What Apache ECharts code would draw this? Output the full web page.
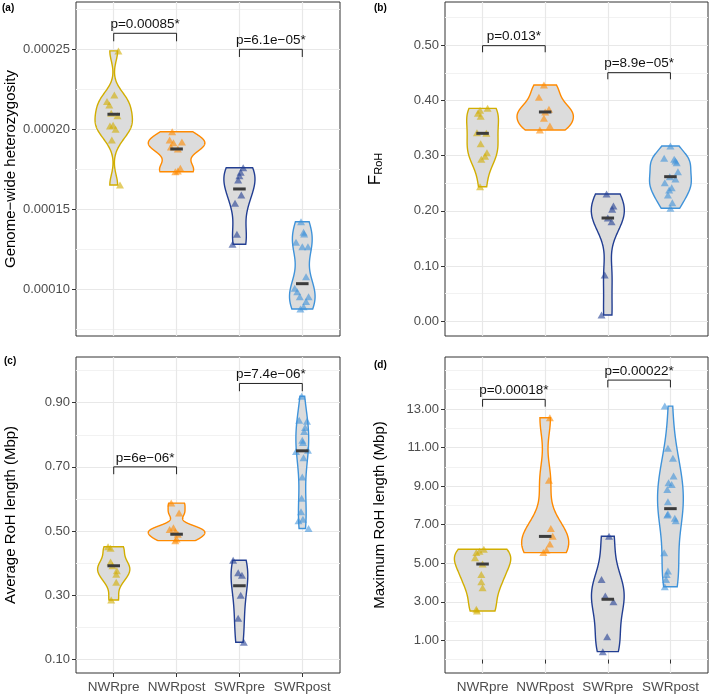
<!DOCTYPE html>
<html><head><meta charset="utf-8">
<script src="https://cdn.jsdelivr.net/npm/echarts@6/dist/echarts.min.js"></script>
<style>html,body{margin:0;padding:0;background:#fff}#chart{width:709px;height:694px}</style>
</head><body><div id="chart"></div>
<script>
// ---------- categories / colours ----------
const categories = ['NWRpre', 'NWRpost', 'SWRpre', 'SWRpost'];
const groupColors = ['#D2AE00', '#FF8A00', '#223E92', '#3F93DA'];

// ---------- (a) genome-wide heterozygosity ----------
const hetNWRpre = [0.000249, 0.0002214, 0.0002173, 0.0002152, 0.000210, 0.0002085, 0.0002025, 0.000202, 0.0002, 0.0001933, 0.0001652];
const hetNWRpreJit = [0.075, 0.01, -0.107, -0.07, -0.04, 0.06, -0.01, -0.06, 0.03, -0.03, 0.1];
const hetNWRpost = [0.0001985, 0.0001933, 0.0001916, 0.000192, 0.000189, 0.0001877, 0.0001756, 0.000174, 0.0001735];
const hetNWRpostJit = [-0.07, -0.11, -0.05, 0.085, -0.09, 0.02, 0.06, 0.02, -0.02];
const hetSWRpre = [0.000176, 0.0001731, 0.000171, 0.0001683, 0.0001589, 0.0001537, 0.0001344, 0.0001281];
const hetSWRpreJit = [0.06, 0.02, 0, -0.02, 0.03, -0.07, -0.04, -0.11];
const hetSWRpost = [0.0001422, 0.0001356, 0.0001345, 0.0001294, 0.0001266, 0.0001266, 0.0001079, 0.0001006, 0.0000985, 0.0000954, 0.0000954, 0.0000923, 0.0000891, 0.0000877];
const hetSWRpostJit = [-0.02, 0.02, 0.03, -0.1, 0, 0.09, 0.06, -0.12, -0.08, -0.04, 0.1, 0.06, 0.02, -0.03];
const hetMedians = [0.0002094, 0.0001877, 0.0001627, 0.0001035];
const hetTicks = [0.0001, 0.00015, 0.0002, 0.00025];
const hetTickLabels = ['0.00010', '0.00015', '0.00020', '0.00025'];
const hetMinor = [0.000075, 0.000125, 0.000175, 0.000225, 0.000275];
const hetRange = [0.0000708, 0.00027956];
const hetBracketFrom = [1, 3], hetBracketTo = [2, 4];
const hetBracketY = [0.00026, 0.00025];
const hetBracketTip = [0.000255, 0.0002452];
const hetBracketLabels = ['p=0.00085*', 'p=6.1e\u221205*'];

// ---------- (b) F_RoH ----------
const frohNWRpre = [0.3858, 0.3822, 0.3768, 0.3715, 0.3415, 0.3405, 0.3216, 0.3054, 0.299, 0.2935, 0.2438];
const frohNWRpreJit = [0.08, -0.04, -0.075, -0.03, -0.09, 0.06, -0.03, 0.07, 0.04, -0.02, -0.04];
const frohNWRpost = [0.428, 0.4058, 0.384, 0.3792, 0.3678, 0.3538, 0.3466];
const frohNWRpostJit = [-0.02, -0.1, 0.06, 0, -0.02, 0.075, -0.085];
const frohSWRpre = [0.2306, 0.2089, 0.2030, 0.1871, 0.1804, 0.0839, 0.0114];
const frohSWRpreJit = [-0.02, 0.09, 0.07, 0, 0.06, -0.05, -0.1];
const frohSWRpost = [0.3176, 0.2953, 0.2935, 0.2905, 0.2873, 0.271, 0.262, 0.258, 0.2511, 0.2420, 0.2379, 0.2288, 0.2149, 0.2047];
const frohSWRpostJit = [0, -0.1, 0.06, 0.08, 0.1, 0.12, -0.01, 0.08, -0.09, 0.02, -0.02, -0.04, 0.03, 0];
const frohMedians = [0.3405, 0.3792, 0.1871, 0.262];
const frohTicks = [0, 0.1, 0.2, 0.3, 0.4, 0.5];
const frohTickLabels = ['0.00', '0.10', '0.20', '0.30', '0.40', '0.50'];
const frohMinor = [0.05, 0.15, 0.25, 0.35, 0.45, 0.55];
const frohRange = [-0.0266, 0.5784];
const frohBracketFrom = [1, 3], frohBracketTo = [2, 4];
const frohBracketY = [0.4993, 0.4504];
const frohBracketTip = [0.4873, 0.4384];
const frohBracketLabels = ['p=0.013*', 'p=8.9e\u221205*'];

// ---------- (c) average RoH length ----------
const avgNWRpre = [0.451, 0.446, 0.403, 0.392, 0.376, 0.365, 0.340, 0.2847];
const avgNWRpreJit = [-0.09, -0.05, -0.05, -0.02, 0.05, 0.04, 0.04, -0.04];
const avgNWRpost = [0.587, 0.556, 0.51, 0.505, 0.498, 0.49, 0.475, 0.47];
const avgNWRpostJit = [-0.085, 0.04, -0.05, -0.11, -0.02, 0.02, 0, -0.02];
const avgSWRpre = [0.409, 0.37, 0.362, 0.30, 0.228, 0.153];
const avgSWRpreJit = [-0.1, -0.02, 0.04, 0.02, -0.02, 0.07];
const avgSWRpost = [0.92, 0.845, 0.842, 0.823, 0.81, 0.783, 0.776, 0.752, 0.748, 0.728, 0.668, 0.602, 0.56, 0.537, 0.532, 0.508];
const avgSWRpostJit = [-0.01, -0.05, 0.075, 0.045, 0.03, 0, 0.01, 0.09, -0.1, 0.02, 0, -0.01, -0.02, 0.01, -0.06, 0.1];
const avgMedians = [0.3916, 0.4900, 0.3293, 0.7500];
const avgTicks = [0.1, 0.3, 0.5, 0.7, 0.9];
const avgTickLabels = ['0.10', '0.30', '0.50', '0.70', '0.90'];
const avgMinor = [0.2, 0.4, 0.6, 0.8, 1.0];
const avgRange = [0.0573, 1.0425];
const avgBracketFrom = [1, 3], avgBracketTo = [2, 4];
const avgBracketY = [0.70, 0.96];
const avgBracketTip = [0.677, 0.9358];
const avgBracketLabels = ['p=6e\u221206*', 'p=7.4e\u221206*'];

// ---------- (d) maximum RoH length ----------
const maxNWRpre = [5.72, 5.62, 5.55, 5.28, 4.96, 4.42, 4.04, 3.73, 2.61, 2.52];
const maxNWRpreJit = [0.02, -0.05, -0.1, -0.12, 0, -0.02, -0.02, 0, -0.1, -0.09];
const maxNWRpost = [12.55, 9.3, 6.8, 6.4, 6.0, 5.68, 5.55];
const maxNWRpostJit = [0.075, 0.06, 0.09, 0.12, 0.075, 0.02, -0.03];
const maxSWRpre = [6.4, 4.15, 3.3, 3.0, 1.19, 0.41];
const maxSWRpreJit = [0.02, -0.1, -0.04, 0.09, -0.01, -0.08];
const maxSWRpost = [13.15, 10.96, 10.44, 9.52, 9.17, 9.08, 8.83, 8.19, 7.55, 7.5, 7.33, 7.2, 5.54, 4.6, 4.42, 4.16, 3.78];
const maxSWRpostJit = [-0.09, -0.04, 0.04, 0.05, -0.03, 0.02, -0.05, -0.04, -0.04, -0.05, 0.07, 0.085, -0.1, -0.04, -0.06, -0.07, -0.09];
const maxMedians = [4.957, 6.39, 3.13, 7.83];
const maxTicks = [1, 3, 5, 7, 9, 11, 13];
const maxTickLabels = ['1.00', '3.00', '5.00', '7.00', '9.00', '11.00', '13.00'];
const maxMinor = [0, 2, 4, 6, 8, 10, 12, 14, 15];
const maxRange = [-0.6965, 15.698];
const maxBracketFrom = [1, 3], maxBracketTo = [2, 4];
const maxBracketY = [13.5, 14.5];
const maxBracketTip = [13.12, 14.12];
const maxBracketLabels = ['p=0.00018*', 'p=0.00022*'];

// ---------- layout ----------
const FONT = '"Liberation Sans", Arial, Helvetica, sans-serif';
const panels = [
  { tag: '(a)', tagPos: [2, 3], grid: { left: 76, top: 2, width: 264, height: 334 }, range: hetRange,
    ticks: hetTicks, tickLabels: hetTickLabels, minor: hetMinor, showX: false,
    groups: [[hetNWRpre, hetNWRpreJit], [hetNWRpost, hetNWRpostJit], [hetSWRpre, hetSWRpreJit], [hetSWRpost, hetSWRpostJit]],
    medians: hetMedians, bFrom: hetBracketFrom, bTo: hetBracketTo, bY: hetBracketY, bTip: hetBracketTip, bLab: hetBracketLabels,
    name: 'Genome\u2212wide heterozygosity', nameGap: 58 },
  { tag: '(b)', tagPos: [374, 3], grid: { left: 445, top: 2, width: 263, height: 334 }, range: frohRange,
    ticks: frohTicks, tickLabels: frohTickLabels, minor: frohMinor, showX: false,
    groups: [[frohNWRpre, frohNWRpreJit], [frohNWRpost, frohNWRpostJit], [frohSWRpre, frohSWRpreJit], [frohSWRpost, frohSWRpostJit]],
    medians: frohMedians, bFrom: frohBracketFrom, bTo: frohBracketTo, bY: frohBracketY, bTip: frohBracketTip, bLab: frohBracketLabels,
    name: '{f|F}{s|RoH}', nameGap: 61 },
  { tag: '(c)', tagPos: [4, 356], grid: { left: 76, top: 357, width: 264, height: 316 }, range: avgRange,
    ticks: avgTicks, tickLabels: avgTickLabels, minor: avgMinor, showX: true,
    groups: [[avgNWRpre, avgNWRpreJit], [avgNWRpost, avgNWRpostJit], [avgSWRpre, avgSWRpreJit], [avgSWRpost, avgSWRpostJit]],
    medians: avgMedians, bFrom: avgBracketFrom, bTo: avgBracketTo, bY: avgBracketY, bTip: avgBracketTip, bLab: avgBracketLabels,
    name: 'Average RoH length (Mbp)', nameGap: 58 },
  { tag: '(d)', tagPos: [374, 360], grid: { left: 445, top: 357, width: 263, height: 316 }, range: maxRange,
    ticks: maxTicks, tickLabels: maxTickLabels, minor: maxMinor, showX: true,
    groups: [[maxNWRpre, maxNWRpreJit], [maxNWRpost, maxNWRpostJit], [maxSWRpre, maxSWRpreJit], [maxSWRpost, maxSWRpostJit]],
    medians: maxMedians, bFrom: maxBracketFrom, bTo: maxBracketTo, bY: maxBracketY, bTip: maxBracketTip, bLab: maxBracketLabels,
    name: 'Maximum RoH length (Mbp)', nameGap: 58 }
];

// ---------- violin density (ggplot2 stat_ydensity: gaussian, bw.nrd0, trim, scale = "area") ----------
function q7(s, p) { const h = (s.length - 1) * p, lo = Math.floor(h); const hi = Math.min(lo + 1, s.length - 1); return s[lo] + (h - lo) * (s[hi] - s[lo]); }
function bwNrd0(s) {
  const n = s.length, mean = s.reduce((a, b) => a + b, 0) / n;
  const sd = Math.sqrt(s.reduce((a, b) => a + (b - mean) * (b - mean), 0) / (n - 1));
  let lo = Math.min(sd, (q7(s, 0.75) - q7(s, 0.25)) / 1.34);
  if (!lo) lo = sd || Math.abs(s[0]) || 1;
  return 0.9 * lo * Math.pow(n, -0.2);
}
function kde(x) {
  const s = [...x].sort((a, b) => a - b), n = s.length, bw = bwNrd0(s);
  const lo = s[0], hi = s[n - 1], N = 256, ys = [], ds = [];
  for (let k = 0; k < N; k++) {
    const y = lo + (hi - lo) * k / (N - 1);
    let d = 0;
    for (const xi of s) { const z = (y - xi) / bw; d += Math.exp(-0.5 * z * z); }
    ys.push(y); ds.push(d / (n * bw * Math.sqrt(2 * Math.PI)));
  }
  return { ys, ds };
}

const option = { animation: false, backgroundColor: '#ffffff', title: [], grid: [], xAxis: [], yAxis: [], series: [] };

panels.forEach((P, pi) => {
  option.grid.push(Object.assign({ show: true, borderColor: '#333333', borderWidth: 1, backgroundColor: 'transparent', containLabel: false }, P.grid));
  option.title.push({ text: P.tag, left: P.tagPos[0], top: P.tagPos[1], padding: 0,
    textStyle: { fontFamily: FONT, fontSize: 10, fontWeight: 'bold', color: '#000' } });
  option.xAxis.push({
    gridIndex: pi, type: 'value', min: 0.4, max: 4.6,
    axisLine: { show: false },
    axisTick: { show: P.showX, customValues: [1, 2, 3, 4], length: 4, lineStyle: { color: '#333333' } },
    axisLabel: { show: P.showX, customValues: [1, 2, 3, 4], margin: 7, color: '#4D4D4D', fontFamily: FONT, fontSize: 13.5,
      formatter: v => categories[Math.round(v) - 1] },
    splitLine: { show: true, lineStyle: { color: '#E8E8E8', width: 1.2 } }
  });
  const tickLabelOf = v => { const i = P.ticks.findIndex(t => Math.abs(t - v) < 1e-9); return i >= 0 ? P.tickLabels[i] : ''; };
  option.yAxis.push({
    gridIndex: pi, type: 'value', min: P.range[0], max: P.range[1],
    axisLine: { show: false },
    axisTick: { show: true, customValues: P.ticks, length: 4, lineStyle: { color: '#333333' } },
    axisLabel: { customValues: P.ticks, margin: 6, color: '#4D4D4D', fontFamily: FONT, fontSize: 13, formatter: tickLabelOf },
    splitLine: { show: true, lineStyle: { color: '#E8E8E8', width: 1.2 } },
    name: P.name, nameLocation: 'middle', nameGap: P.nameGap,
    nameTextStyle: { fontFamily: FONT, fontSize: 15, color: '#000',
      rich: { f: { fontFamily: FONT, fontSize: 17, color: '#000', verticalAlign: 'middle', lineHeight: 18 },
              s: { fontFamily: FONT, fontSize: 11, color: '#000', verticalAlign: 'bottom', lineHeight: 18 } } }
  });
  option.yAxis.push({
    gridIndex: pi, type: 'value', min: P.range[0], max: P.range[1],
    axisLine: { show: false }, axisTick: { show: false, customValues: P.minor },
    axisLabel: { show: false, customValues: P.minor },
    splitLine: { show: true, lineStyle: { color: '#F2F2F2', width: 1 } }
  });
  const yi = pi * 2;

  // violins
  const dens = P.groups.map(g => kde(g[0]));
  const dmax = Math.max(...dens.map(d => Math.max(...d.ds)));
  option.series.push({
    type: 'custom', xAxisIndex: pi, yAxisIndex: yi, z: 2,
    data: dens.map((d, gi) => [gi + 1, d.ys[0]]),
    renderItem: (params, api) => {
      const gi = params.dataIndex, d = dens[gi], cx = gi + 1;
      const left = [], right = [];
      for (let k = 0; k < d.ys.length; k++) {
        const hw = d.ds[k] / dmax * 0.45;
        left.push(api.coord([cx - hw, d.ys[k]]));
        right.push(api.coord([cx + hw, d.ys[k]]));
      }
      return { type: 'polygon', shape: { points: left.concat(right.reverse()) },
        style: { fill: '#DCDCDC', stroke: groupColors[gi], lineWidth: 1.4 } };
    }
  });
  // jittered points
  P.groups.forEach((g, gi) => {
    option.series.push({
      type: 'scatter', xAxisIndex: pi, yAxisIndex: yi, z: 3,
      symbol: 'triangle', symbolSize: [8, 7],
      itemStyle: { color: groupColors[gi], opacity: 0.6 },
      data: g[0].map((v, k) => [gi + 1 + g[1][k], v])
    });
  });
  // medians
  option.series.push({
    type: 'custom', xAxisIndex: pi, yAxisIndex: yi, z: 4,
    data: P.medians.map((m, gi) => [gi + 1, m]),
    renderItem: (params, api) => {
      const c = api.coord([api.value(0), api.value(1)]);
      const w = api.size([0.2, 0])[0];
      return { type: 'rect', shape: { x: c[0] - w / 2, y: c[1] - 1.5, width: w, height: 3 }, style: { fill: '#3C3C3C' } };
    }
  });
  // significance brackets
  option.series.push({
    type: 'custom', xAxisIndex: pi, yAxisIndex: yi, z: 5,
    data: P.bY.map((y, i) => [P.bFrom[i], y, P.bTo[i], P.bTip[i]]),
    renderItem: (params, api) => {
      const i = params.dataIndex;
      const x1 = api.value(0), y = api.value(1), x2 = api.value(2), tip = api.value(3);
      const p1 = api.coord([x1, tip]), p2 = api.coord([x1, y]), p3 = api.coord([x2, y]), p4 = api.coord([x2, tip]);
      return { type: 'group', children: [
        { type: 'polyline', shape: { points: [p1, p2, p3, p4] }, style: { stroke: '#222222', lineWidth: 1, fill: null } },
        { type: 'text', style: { text: P.bLab[i], x: (p2[0] + p3[0]) / 2, y: p2[1] - 2, align: 'center', verticalAlign: 'bottom',
            fontFamily: FONT, fontSize: 13.5, fill: '#111111' } }
      ] };
    }
  });
});

const chart = echarts.init(document.getElementById('chart'), null, { renderer: 'canvas' });
chart.setOption(option);
</script></body></html>
